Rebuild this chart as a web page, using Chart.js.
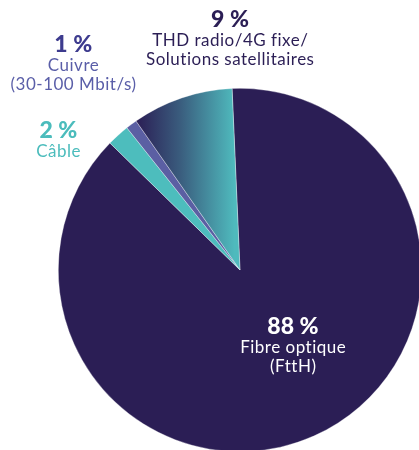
<!DOCTYPE html>
<html>
<head>
<meta charset="utf-8">
<script src="https://cdn.jsdelivr.net/npm/chart.js@4.4.1/dist/chart.umd.min.js"></script>
<style>
html,body{margin:0;padding:0;background:#fff;overflow:hidden;width:419px;height:450px;}
#wrap{position:absolute;left:0;top:0;width:430px;height:460px;}
</style>
</head>
<body>
<div id="wrap"><canvas id="c" width="430" height="460"></canvas></div>
<script>
// Data
const categories = ["Fibre optique (FttH)", "Câble", "Cuivre (30-100 Mbit/s)", "THD radio/4G fixe/Solutions satellitaires"];
const values = [88, 2, 1, 9];
const valueLabels = ["88 %", "2 %", "1 %", "9 %"];
const labelLines = [["Fibre optique", "(FttH)"], ["Câble"], ["Cuivre", "(30-100 Mbit/s)"], ["THD radio/4G fixe/", "Solutions satellitaires"]];

// Styles
const NAVY = "#2b1e55";
const TEAL = "#4dbdbd";
const CUIVRE = "#5b5fa3";
const sliceColors = [NAVY, TEAL, CUIVRE, null];
const titleColors = ["#ffffff", "#4bbcbc", "#3d3b8e", NAVY];
const lineColors = ["#ffffff", "#4bbcbc", "#5a5ea8", NAVY];
// label anchor: angle (deg, clockwise from top) and distance as fraction of radius
const labelPolar = [[140.4, 0.457], [-54.05, 1.235], [-37.45, 1.509], [-2.36, 1.336]];
const FONT = "Lato, 'Open Sans', sans-serif";

function bg(ctx) {
  const i = ctx.dataIndex;
  if (sliceColors[i]) return sliceColors[i];
  const chart = ctx.chart;
  const ca = chart.chartArea;
  if (!ca) return TEAL;
  const cx = (ca.left + ca.right) / 2;
  const r = Math.min(ca.right - ca.left, ca.bottom - ca.top) / 2;
  const g = chart.ctx.createLinearGradient(cx - r * 0.57, 0, cx - r * 0.03, 0);
  g.addColorStop(0, NAVY);
  g.addColorStop(0.45, "#3a5d7e");
  g.addColorStop(1, "#4fbabd");
  return g;
}

const labelPlugin = {
  id: "sliceLabels",
  afterDatasetsDraw(chart) {
    const meta = chart.getDatasetMeta(0);
    const arc = meta.data[0];
    const cx = arc.x, cy = arc.y, r = arc.outerRadius;
    const c = chart.ctx;
    c.save();
    c.textAlign = "center";
    c.textBaseline = "alphabetic";
    values.forEach((v, i) => {
      const [deg, f] = labelPolar[i];
      const a = deg * Math.PI / 180;
      const x = cx + Math.sin(a) * r * f;
      const y = cy - Math.cos(a) * r * f;
      c.fillStyle = titleColors[i];
      c.font = "900 23px " + FONT;
      c.letterSpacing = "0px";
      c.fillText(valueLabels[i], x, y);
      c.fillStyle = lineColors[i];
      c.font = "17px " + FONT;
      c.letterSpacing = "0.5px";
      labelLines[i].forEach((t, k) => {
        c.fillText(t, x + 0.25, y + (k === 0 ? 19 : 38));
      });
    });
    c.restore();
  }
};

new Chart(document.getElementById("c"), {
  type: "pie",
  data: {
    labels: categories,
    datasets: [{
      data: values,
      backgroundColor: bg,
      borderColor: "rgba(255,255,255,0.55)",
      borderWidth: 0.6,
      hoverOffset: 0
    }]
  },
  options: {
    responsive: false,
    animation: false,
    rotation: -2.5,
    events: [],
    layout: { padding: { left: 58, top: 88, right: 8, bottom: 8 } },
    plugins: { legend: { display: false }, tooltip: { enabled: false } }
  },
  plugins: [labelPlugin]
});
</script>
</body>
</html>
